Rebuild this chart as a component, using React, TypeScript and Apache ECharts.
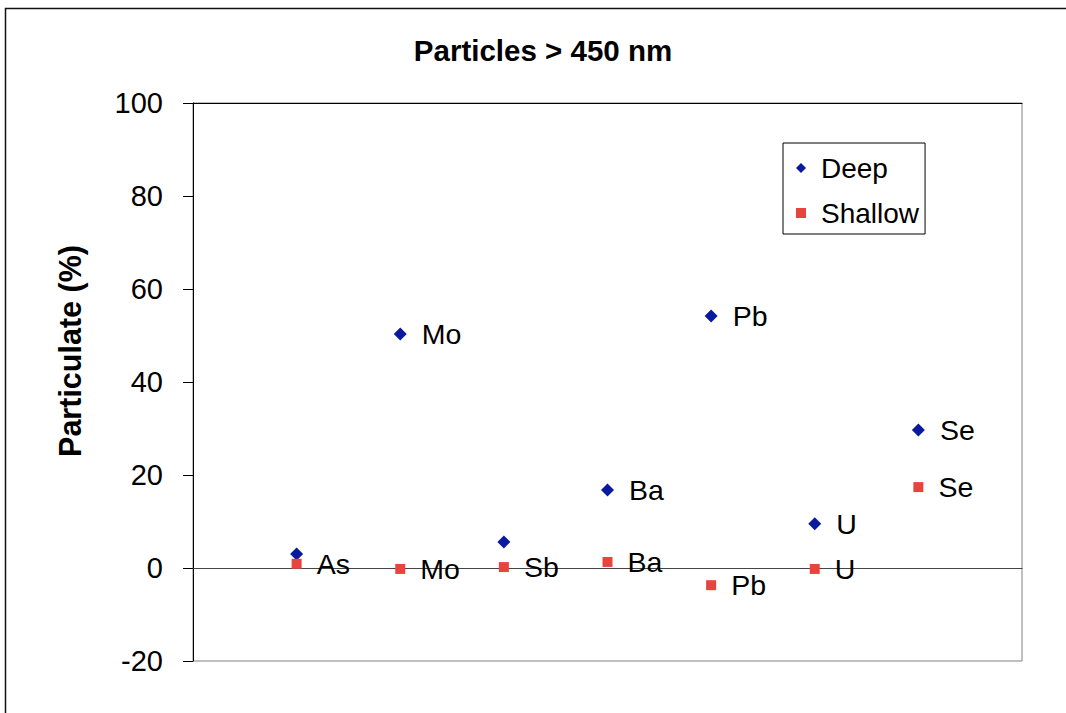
import React, { useEffect, useRef } from "react";
import * as echarts from "echarts";

const categories = ["As", "Mo", "Sb", "Ba", "Pb", "U", "Se"];
const deepValues = [3.0, 50.3, 5.6, 16.8, 54.2, 9.5, 29.7];
const shallowValues = [0.9, -0.2, 0.2, 1.3, -3.7, -0.2, 17.4];
const deepLabelShown = [false, true, false, true, true, true, true];
const shallowLabelShown = [true, true, true, true, true, true, true];
const yTicks = { min: -20, max: 100, interval: 20 };

const FONT = "'Liberation Sans', Arial, sans-serif";

export default function App() {
  const ref = useRef<HTMLDivElement>(null);
  useEffect(() => {
    if (!ref.current) return;
    const chart = echarts.init(ref.current, null, { renderer: "svg" });
    const mk = (vals: number[], shown: boolean[]) =>
      vals.map((v, i) => ({
        value: [i + 1, v],
        name: categories[i],
        label: { show: shown[i] },
      }));
    const labelCfg = {
      show: true,
      position: "right",
      distance: 15,
      formatter: (p: any) => p.name,
      color: "#000",
      opacity: 1,
      fontSize: 28.5,
      fontFamily: FONT,
    };
    chart.setOption({
      animation: false,
      backgroundColor: "#fff",
      textStyle: { fontFamily: FONT },
      grid: {
        left: 193,
        right: 44,
        top: 103,
        bottom: 52,
        show: true,
        borderColor: "#808080",
        borderWidth: 1,
        backgroundColor: "#fff",
      },
      graphic: [
        {
          type: "rect",
          shape: { x: 5.5, y: 8.5, width: 1200, height: 900 },
          style: { fill: "none", stroke: "#111", lineWidth: 1.5 },
          silent: true,
        },
        {
          type: "text",
          x: 543,
          y: 50,
          style: {
            text: "Particles > 450 nm",
            align: "center",
            verticalAlign: "middle",
            fontSize: 29.5,
            fontWeight: "bold",
            fontFamily: FONT,
            fill: "#000",
          },
        },
        {
          type: "text",
          x: 70,
          y: 351,
          rotation: Math.PI / 2,
          style: {
            text: "Particulate (%)",
            align: "center",
            verticalAlign: "middle",
            fontSize: 30.5,
            fontWeight: "bold",
            fontFamily: FONT,
            fill: "#000",
          },
        },
      ],
      legend: {
        orient: "vertical",
        left: 783,
        top: 143,
        padding: [10, 6, 6, 13],
        itemGap: 15,
        itemWidth: 10,
        itemHeight: 10,
        borderColor: "#000",
        borderWidth: 1,
        backgroundColor: "#fff",
        textStyle: {
          fontSize: 28,
          fontFamily: FONT,
          color: "#000",
          padding: [0, 0, 0, 10],
          lineHeight: 30,
        },
        data: [
          { name: "Deep", icon: "diamond" },
          { name: "Shallow", icon: "rect" },
        ],
      },
      xAxis: [
        {
          type: "value",
          min: 0,
          max: 8,
          axisLine: { show: true, onZero: true, lineStyle: { color: "#444", width: 1 } },
          axisTick: { show: false },
          axisLabel: { show: false },
          splitLine: { show: false },
        },
        {
          type: "value",
          position: "top",
          min: 0,
          max: 8,
          axisLine: { show: true, onZero: false, lineStyle: { color: "#000", width: 1 } },
          axisTick: { show: false },
          axisLabel: { show: false },
          splitLine: { show: false },
        },
      ],
      yAxis: {
        type: "value",
        min: yTicks.min,
        max: yTicks.max,
        interval: yTicks.interval,
        axisLine: { show: true, onZero: false, lineStyle: { color: "#000", width: 1 } },
        axisTick: { show: true, length: 10, lineStyle: { color: "#000" } },
        axisLabel: {
          margin: 30,
          fontSize: 29,
          color: "#000",
          fontFamily: FONT,
        },
        splitLine: { show: false },
      },
      series: [
        {
          name: "Deep",
          type: "scatter",
          symbol: "diamond",
          symbolSize: 13,
          itemStyle: { color: "#0A1A9E", opacity: 1 },
          label: labelCfg,
          data: mk(deepValues, deepLabelShown),
          z: 3,
        },
        {
          name: "Shallow",
          type: "scatter",
          symbol: "rect",
          symbolSize: 10,
          itemStyle: { color: "#E8443E", opacity: 1 },
          label: labelCfg,
          data: mk(shallowValues, shallowLabelShown),
          z: 4,
        },
      ],
    });
    return () => chart.dispose();
  }, []);
  return (
    <div
      ref={ref}
      style={{ position: "fixed", left: 0, top: 0, width: 1066, height: 713 }}
    />
  );
}
